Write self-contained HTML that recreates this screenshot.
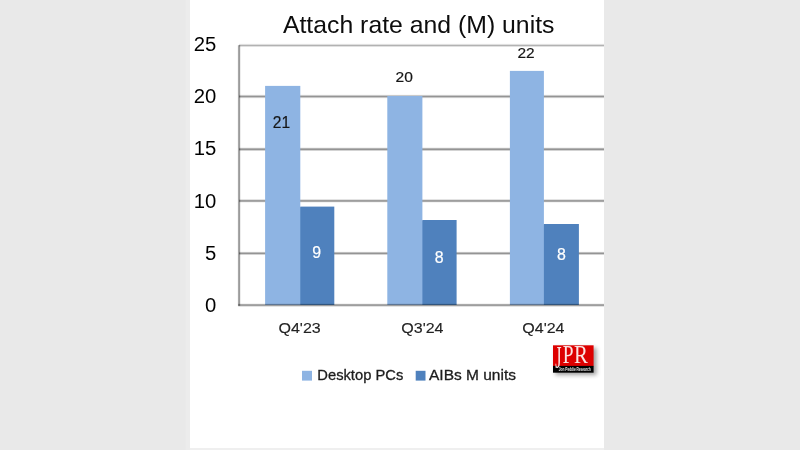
<!DOCTYPE html>
<html>
<head>
<meta charset="utf-8">
<title>Attach rate and (M) units</title>
<style>
html,body{margin:0;padding:0;}
body{width:800px;height:450px;overflow:hidden;background:#e9e9e9;font-family:"Liberation Sans",sans-serif;}
svg{display:block;}
text{font-family:"Liberation Sans",sans-serif;}
</style>
</head>
<body>
<svg width="800" height="450" viewBox="0 0 800 450">
  <defs>
    <filter id="soft" x="0" y="0" width="100%" height="100%" filterUnits="userSpaceOnUse"><feGaussianBlur stdDeviation="0.45"/></filter>
    <filter id="sh" x="-20%" y="-20%" width="150%" height="160%">
      <feGaussianBlur stdDeviation="1.9"/>
    </filter>
  </defs>
  <rect x="0" y="0" width="800" height="450" fill="#e9e9e9"/>
  <rect x="185.5" y="0" width="5" height="450" fill="#ececec"/>
  <rect x="190" y="447" width="414" height="3" fill="#efefef"/>
  <rect x="190" y="0" width="414" height="448" fill="#ffffff"/>

  <g filter="url(#soft)">
  <rect x="190" y="0" width="414" height="448" fill="#ffffff"/>
  <!-- gridlines -->
  <g stroke="#000" fill="none">
    <line x1="239.1" y1="45.45" x2="604" y2="45.45" stroke-width="3.2" stroke-opacity="0.06"/>
    <line x1="239.1" y1="45.45" x2="604" y2="45.45" stroke-width="2.0" stroke-opacity="0.12"/>
    <line x1="239.1" y1="45.45" x2="604" y2="45.45" stroke-width="1.0" stroke-opacity="0.16"/>
    <line x1="239.1" y1="96.5" x2="604" y2="96.5" stroke-width="3.4" stroke-opacity="0.09"/>
    <line x1="239.1" y1="96.5" x2="604" y2="96.5" stroke-width="2.4" stroke-opacity="0.18"/>
    <line x1="239.1" y1="96.5" x2="604" y2="96.5" stroke-width="1.2" stroke-opacity="0.22"/>
    <line x1="239.1" y1="149.3" x2="604" y2="149.3" stroke-width="3.4" stroke-opacity="0.09"/>
    <line x1="239.1" y1="149.3" x2="604" y2="149.3" stroke-width="2.4" stroke-opacity="0.18"/>
    <line x1="239.1" y1="149.3" x2="604" y2="149.3" stroke-width="1.2" stroke-opacity="0.22"/>
    <line x1="239.1" y1="200.9" x2="604" y2="200.9" stroke-width="3.4" stroke-opacity="0.09"/>
    <line x1="239.1" y1="200.9" x2="604" y2="200.9" stroke-width="2.4" stroke-opacity="0.18"/>
    <line x1="239.1" y1="200.9" x2="604" y2="200.9" stroke-width="1.2" stroke-opacity="0.22"/>
    <line x1="239.1" y1="253.35" x2="604" y2="253.35" stroke-width="3.4" stroke-opacity="0.09"/>
    <line x1="239.1" y1="253.35" x2="604" y2="253.35" stroke-width="2.4" stroke-opacity="0.18"/>
    <line x1="239.1" y1="253.35" x2="604" y2="253.35" stroke-width="1.2" stroke-opacity="0.22"/>
  </g>

  <!-- bars -->
  <g fill="#8eb4e3">
    <rect x="265.1" y="85.9" width="35.2" height="219.1"/>
    <rect x="387.3" y="96" width="35.1" height="209"/>
    <rect x="509.9" y="70.9" width="34" height="234.1"/>
    <rect x="299" y="207.2" width="3" height="97.8"/>
    <rect x="421" y="220.6" width="3" height="84.4"/>
    <rect x="542.5" y="224.6" width="3" height="80.4"/>
  </g>
  <g fill="#4f81bd">
    <rect x="300.3" y="206.6" width="34" height="98.4"/>
    <rect x="422.4" y="220" width="34.2" height="85"/>
    <rect x="543.9" y="224" width="35" height="81"/>
  </g>

  <!-- axes -->
  <g stroke="#000" fill="none">
    <line x1="239.1" y1="45.2" x2="239.1" y2="305.7" stroke-width="3.0" stroke-opacity="0.08"/>
    <line x1="239.1" y1="45.2" x2="239.1" y2="305.7" stroke-width="2.1" stroke-opacity="0.19"/>
    <line x1="239.1" y1="45.2" x2="239.1" y2="305.7" stroke-width="1.1" stroke-opacity="0.28"/>
    <line x1="238.2" y1="305.1" x2="604" y2="305.1" stroke-width="3.4" stroke-opacity="0.09"/>
    <line x1="238.2" y1="305.1" x2="604" y2="305.1" stroke-width="2.4" stroke-opacity="0.18"/>
    <line x1="238.2" y1="305.1" x2="604" y2="305.1" stroke-width="1.2" stroke-opacity="0.22"/>
  </g>

  <!-- title -->
  <text x="418.7" y="33" font-size="24.6" textLength="271.5" lengthAdjust="spacingAndGlyphs" text-anchor="middle" fill="#0a0a0a">Attach rate and (M) units</text>

  <!-- y labels -->
  <g font-size="20.3" fill="#050505" text-anchor="end">
    <text x="216.3" y="51">25</text>
    <text x="216.3" y="102.5">20</text>
    <text x="216.3" y="155.4">15</text>
    <text x="216.3" y="207.5">10</text>
    <text x="216.3" y="259.8">5</text>
    <text x="216.3" y="311.8">0</text>
  </g>

  <!-- x labels -->
  <g font-size="15.2" fill="#242424" stroke="#242424" stroke-width="0.12" text-anchor="middle">
    <text x="299.6" y="333.2" textLength="42.3" lengthAdjust="spacingAndGlyphs">Q4'23</text>
    <text x="422.4" y="333.2" textLength="42.3" lengthAdjust="spacingAndGlyphs">Q3'24</text>
    <text x="543.4" y="333.2" textLength="42.3" lengthAdjust="spacingAndGlyphs">Q4'24</text>
  </g>

  <!-- data labels -->
  <g fill="#161616" stroke="#161616" stroke-width="0.2" text-anchor="middle">
    <text x="281.4" y="128.2" font-size="16" textLength="17.3" lengthAdjust="spacingAndGlyphs">21</text>
    <text x="404.2" y="81.8" font-size="15" textLength="17.3" lengthAdjust="spacingAndGlyphs">20</text>
    <text x="526" y="58.1" font-size="15.3" textLength="17.2" lengthAdjust="spacingAndGlyphs">22</text>
  </g>
  <g font-size="15.9" fill="#ffffff" stroke="#ffffff" stroke-width="0.2" text-anchor="middle">
    <text x="316.6" y="258.4">9</text>
    <text x="439.2" y="263">8</text>
    <text x="561.5" y="260.1">8</text>
  </g>

  <!-- legend -->
  <rect x="302" y="370.8" width="10" height="9.8" fill="#8eb4e3"/>
  <text x="317.3" y="380.3" font-size="15" fill="#1c1c1c" stroke="#1c1c1c" stroke-width="0.3" textLength="86" lengthAdjust="spacingAndGlyphs">Desktop PCs</text>
  <rect x="415.7" y="370.8" width="9.8" height="9.8" fill="#4f81bd"/>
  <text x="429" y="380.3" font-size="15" fill="#1c1c1c" stroke="#1c1c1c" stroke-width="0.3" textLength="87" lengthAdjust="spacingAndGlyphs">AIBs M units</text>

  <!-- logo -->
  <rect x="555.5" y="348" width="41" height="27" fill="#3a3a3a" opacity="0.48" filter="url(#sh)"/>
  <rect x="553" y="345.3" width="40.6" height="21" fill="#dd0606"/>
  <rect x="553" y="365.9" width="40.6" height="6.8" fill="#050505"/>
  <g fill="#fbe4e2" style="font-family:'Liberation Serif',serif">
    <text transform="translate(555.3,368.2) scale(0.5,1)" font-size="32" style="font-family:'Liberation Serif',serif">J</text>
    <text transform="translate(562.8,363.1) scale(0.8,1)" font-size="24.2" style="font-family:'Liberation Serif',serif">P</text>
    <text transform="translate(574,363.1) scale(0.86,1)" font-size="24.2" style="font-family:'Liberation Serif',serif">R</text>
  </g>
  <text x="574.8" y="371" font-size="4.8" font-weight="bold" text-anchor="middle" fill="#e2e2e2" textLength="32" lengthAdjust="spacingAndGlyphs">Jon Peddie Research</text>
  </g>
</svg>
</body>
</html>
